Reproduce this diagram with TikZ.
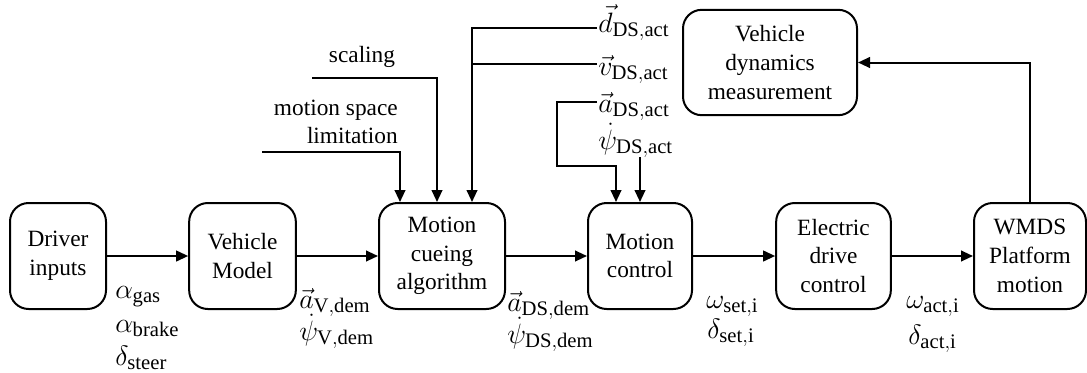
\documentclass[tikz,border=0pt]{standalone}
\usepackage{fix-cm}
\usepackage{fontspec}
\setmainfont{Liberation Serif}
\usetikzlibrary{arrows.meta,calc}
\DeclareMathSizes{21}{21}{15.5}{12}
\newcommand{\sub}[1]{\mathrm{#1}}
\begin{document}
\begin{tikzpicture}[x=0.75pt,y=-0.75pt,
  font=\rmfamily\fontsize{17.5}{21.5}\selectfont,
  block/.style={draw,line width=1.5pt,rounded corners=14pt,align=center,
    minimum height=79.5pt,inner sep=2pt},
  wire/.style={line width=1.5pt},
  arr/.style={line width=1.5pt,-{Triangle[length=9pt,width=8pt]}},
  sig/.style={inner sep=0pt,anchor=base west,font=\rmfamily\fontsize{21}{25}\selectfont},
  lbl/.style={inner sep=0pt}]
\useasboundingbox (0,0) rectangle (1087,372);

% processing blocks
\node[block,minimum width=72pt]  (drv)  at (58,256)   {Driver\\inputs};
\node[block,minimum width=80pt]  (veh)  at (242.5,256){Vehicle\\Model};
\node[block,minimum width=94.5pt](mca)  at (442,256)  {Motion\\cueing\\algorithm};
\node[block,minimum width=78pt]  (mc)   at (640,256)  {Motion\\control};
\node[block,minimum width=86pt]  (edc)  at (833.5,256){Electric\\drive\\control};
\node[block,minimum width=84pt]  (wmds) at (1030,256) {WMDS\\Platform\\motion};
\node[block,minimum width=130.5pt,minimum height=79pt] (vdm) at (770,62.5)
  {Vehicle\\dynamics\\measurement};

% forward chain
\draw[arr] (drv) -- (veh);
\draw[arr] (veh) -- (mca);
\draw[arr] (mca) -- (mc);
\draw[arr] (mc)  -- (edc);
\draw[arr] (edc) -- (wmds);
\draw[arr] (wmds.north) |- (vdm.east);

% signal labels along the chain
\node[sig] (agas)   at (115,298) {$\alpha_{\sub{gas}}$};
\node[sig] (abrk)   at (115,332) {$\alpha_{\sub{brake}}$};
\node[sig] (dstr)   at (115,365) {$\delta_{\sub{steer}}$};
\node[sig] (avdem)  at (299,308) {$\vec{a}_{\sub{V,dem}}$};
\node[sig] (pvdem)  at (299,340) {$\dot{\psi}_{\sub{V,dem}}$};
\node[sig] (adsdem) at (507,311) {$\vec{a}_{\sub{DS,dem}}$};
\node[sig] (pdsdem) at (507,343) {$\dot{\psi}_{\sub{DS,dem}}$};
\node[sig] (wset)   at (706,308) {$\omega_{\sub{set,i}}$};
\node[sig] (dset)   at (707,338) {$\delta_{\sub{set,i}}$};
\node[sig] (wact)   at (906,308) {$\omega_{\sub{act,i}}$};
\node[sig] (dact)   at (908,344) {$\delta_{\sub{act,i}}$};

% measured signals
\node[sig] (dact3) at (598,32)  {$\vec{d}_{\sub{DS,act}}$};
\node[sig] (vact3) at (598,75)  {$\vec{v}_{\sub{DS,act}}$};
\node[sig] (aact3) at (598,112) {$\vec{a}_{\sub{DS,act}}$};
\node[sig] (pact)  at (598,149) {$\dot{\psi}_{\sub{DS,act}}$};

% parameter inputs of the cueing algorithm
\node[lbl] (scal) at (362,57) {scaling};
\node[lbl,align=right,anchor=east] (msl) at (398,122) {motion space\\limitation};

\coordinate (mslS) at (262,152);
\coordinate (scalS) at (312,78);
\coordinate (dS) at (597,28);
\coordinate (vS) at (597,64);
\coordinate (aS) at (597,102);
\coordinate (pS) at (640,157);
\coordinate (inA) at (400,0);
\coordinate (inB) at (437,0);
\coordinate (inC) at (472,0);
\coordinate (inD) at (616,0);
\coordinate (aBend) at (557,166);

\draw[arr] (mslS) -| (mca.north -| inA);
\draw[arr] (scalS) -| (mca.north -| inB);
\draw[arr] (dS) -| (mca.north -| inC);
\draw[wire] (vS) -- (vS -| inC);
\draw[arr] (aS) -| (aBend) -| (mc.north -| inD);
\draw[arr] (pS) -- (mc.north -| pS);
\end{tikzpicture}
\end{document}
